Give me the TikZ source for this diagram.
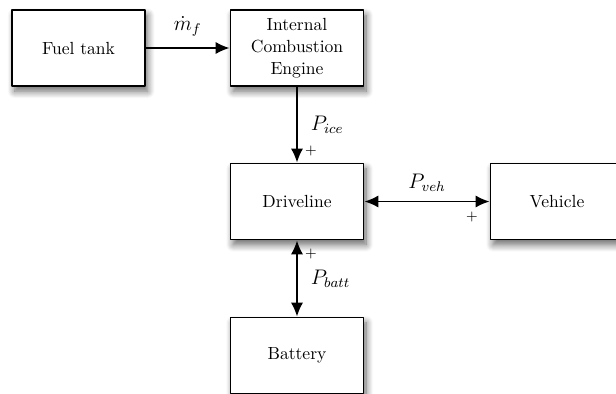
\documentclass[tikz,border=0pt]{standalone}
\usetikzlibrary{arrows.meta}
\usetikzlibrary{shadows.blur}

\begin{document}
\begin{tikzpicture}[x=0.02cm, y=-0.02cm, line join=round,
    block/.style={draw, line width=1pt, fill=white, minimum width=2.66cm, minimum height=1.52cm,
      align=center, font=\rmfamily\fontsize{10}{12.5}\selectfont,
      blur shadow={shadow xshift=1.5pt, shadow yshift=-3pt, shadow blur steps=10, shadow blur radius=4pt, shadow opacity=60}},
    flow/.style={line width=1.1pt, -{Latex[length=8pt, width=7pt]}},
    both/.style={line width=1.1pt, {Latex[length=8pt, width=7pt]}-{Latex[length=8pt, width=7pt]}},
    lbl/.style={font=\large},
    sign/.style={font=\footnotesize, inner sep=0pt}]
  \useasboundingbox (0,0) rectangle (616,393);
  \clip (0,0) rectangle (616,393);
  \node[block] (fuel) at (78.5, 48) {Fuel tank};
  \node[block] (ice) at (297, 48) {Internal\\Combustion\\Engine};
  \node[block] (drive) at (297, 201.5) {Driveline};
  \node[block] (veh) at (557, 201.5) {Vehicle};
  \node[block] (batt) at (297, 355.5) {Battery};
  \draw[flow] (fuel) -- (ice) node[lbl, midway, above=3pt] {$\dot{m}_f$};
  \draw[flow] (ice) -- (drive) node[lbl, midway, right=4pt] {$P_{ice}$};
  \draw[both] (drive) -- (veh) node[lbl, midway, above=2pt] {$P_{veh}$};
  \draw[both] (drive) -- (batt) node[lbl, midway, right=4pt] {$P_{batt}$};
  \node[sign] (p1) at (311, 151) {+};
  \node[sign] (p2) at (472, 217) {+};
  \node[sign] (p3) at (311, 254) {+};
\end{tikzpicture}
\end{document}
